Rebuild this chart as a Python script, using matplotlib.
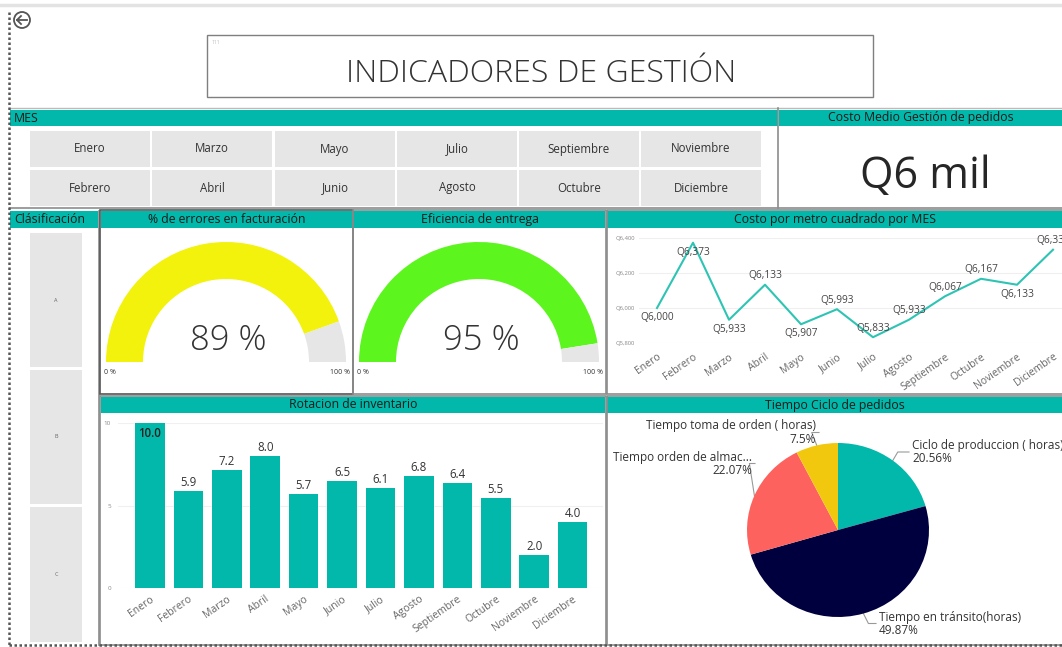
import numpy as np
import matplotlib
matplotlib.use("Agg")
import matplotlib.pyplot as plt
from matplotlib.patches import Rectangle, Wedge, Circle

# ---------------- data ----------------
months = ["Enero", "Febrero", "Marzo", "Abril", "Mayo", "Junio", "Julio",
          "Agosto", "Septiembre", "Octubre", "Noviembre", "Diciembre"]
clasificacion = ["A", "B", "C"]

costo_m2 = [6000, 6373, 5933, 6133, 5907, 5993, 5833, 5933, 6067, 6167, 6133, 6333]
costo_ticks = [5800, 6000, 6200, 6400]

rotacion = [10.0, 5.9, 7.2, 8.0, 5.7, 6.5, 6.1, 6.8, 6.4, 5.5, 2.0, 4.0]
rotacion_ticks = [0, 5, 10]

ciclo_labels = ["Ciclo de produccion ( horas)", "Tiempo en tránsito(horas)",
                "Tiempo orden de almac...", "Tiempo toma de orden ( horas)"]
ciclo_pct = [20.56, 49.87, 22.07, 7.5]

errores_pct = 89
eficiencia_pct = 95
costo_medio = "Q6 mil"

# ---------------- style ----------------
plt.rcParams["font.family"] = ["Open Sans", "DejaVu Sans"]
TEAL = "#01B8AA"
NAVY = "#00003F"
SALMON = "#FD625E"
GOLD = "#F2C80F"
TILE = "#E6E6E6"
BORDER = "#8C8C8C"
TXT = "#333333"
HEAD_FS = 8.8

W, H = 1062, 647
fig = plt.figure(figsize=(W / 100, H / 100), dpi=100)


def box(x0, y0, x1, y1):
    return [x0 / W, 1 - y1 / H, (x1 - x0) / W, (y1 - y0) / H]


bg = fig.add_axes([0, 0, 1, 1])
bg.set_xlim(0, W)
bg.set_ylim(H, 0)
bg.axis("off")


def rect(x0, y0, x1, y1, fc="none", ec="none", lw=0.0, z=1):
    bg.add_patch(Rectangle((x0, y0), x1 - x0, y1 - y0, facecolor=fc,
                           edgecolor=ec, lw=lw, zorder=z))


def header(x0, y0, x1, y1, text, left=False):
    rect(x0, y0, x1, y1, fc=TEAL, z=2)
    if left:
        bg.text(x0 + 4, (y0 + y1) / 2, text, ha="left", va="center",
                fontsize=HEAD_FS, color="#1a1a1a", zorder=3)
    else:
        bg.text((x0 + x1) / 2, (y0 + y1) / 2, text, ha="center", va="center",
                fontsize=HEAD_FS, color="#1a1a1a", zorder=3)


# page frame
bg.plot([0, W], [5, 5], color="#E3E3E3", lw=2.5, zorder=1)
bg.plot([9, 9], [12, 645], color="#555555", lw=1.8, ls=(0, (1, 1)), zorder=5)
bg.plot([9, W], [645, 645], color="#555555", lw=1.8, ls=(0, (1, 1)), zorder=5)

# back button
bg.add_patch(Circle((22, 20), 8, fill=False, ec="#555555", lw=1.3, zorder=3))
bg.plot([17, 27], [20, 20], color="#555555", lw=1.3, zorder=3)
bg.plot([21, 17, 21], [16, 20, 24], color="#555555", lw=1.3, zorder=3)

# title box
rect(207, 35, 873, 97, fc="white", ec="#7F7F7F", lw=1.0, z=2)
bg.text(212, 42, "111", fontsize=3.5, color="#BBBBBB", ha="left", va="center", zorder=3)
bg.text(541, 74, "INDICADORES DE GESTIÓN", fontsize=23, fontweight="light",
        color=TXT, ha="center", va="center", zorder=3)

# month slicer
header(10, 110, 778, 126, "MES", left=True)
col_x = [30, 152, 275, 397, 519, 641]
row_y = [131, 170]
cell_w, cell_h = 120, 36
for r, names in enumerate([months[0::2], months[1::2]]):
    for c, name in enumerate(names):
        x0, y0 = col_x[c], row_y[r]
        rect(x0, y0, x0 + cell_w, y0 + cell_h, fc=TILE, z=2)
        bg.text(x0 + cell_w / 2, y0 + cell_h / 2, name, ha="center", va="center",
                fontsize=8.3, color=TXT, zorder=3)
bg.plot([778, 778], [108, 208], color=BORDER, lw=1.2, zorder=3)
bg.plot([10, W], [108, 108], color="#BBBBBB", lw=1.0, zorder=1)
bg.plot([10, W], [208, 208], color=BORDER, lw=1.2, zorder=3)

# KPI card
header(779, 110, W, 126, "Costo Medio Gestión de pedidos")
bg.text(925, 177, costo_medio, ha="center", va="center", fontsize=31,
        fontweight="medium", color="#262626", zorder=3)

# classification slicer
header(10, 211, 98, 228, "Clásificación", left=True)
tile_y = [(233, 367), (370, 504), (507, 642)]
for name, (y0, y1) in zip(clasificacion, tile_y):
    rect(30, y0, 82, y1, fc=TILE, z=2)
    bg.text(56, (y0 + y1) / 2, name, ha="center", va="center", fontsize=4,
            color="#666666", zorder=3)
bg.plot([99, 99], [211, 645], color=BORDER, lw=1.2, zorder=3)

# panel borders and headers
rect(100, 210, 352.5, 394, ec="#555555", lw=1.2, z=4)
rect(352.5, 210, 605.5, 394, ec=BORDER, lw=1.2, z=4)
rect(606.5, 210, W + 2, 394, ec=BORDER, lw=1.2, z=4)
rect(100, 395.5, 605.5, 645, ec=BORDER, lw=1.2, z=4)
rect(606.5, 395.5, W + 2, 645, ec=BORDER, lw=1.2, z=4)

header(101, 211, 352, 228, "% de errores en facturación")
header(354, 211, 605, 228, "Eficiencia de entrega")
header(607, 211, W, 228, "Costo por metro cuadrado por MES")
header(101, 397, 605, 413, "Rotacion de inventario")
header(607, 397, W, 413, "Tiempo Ciclo de pedidos")


# ---------------- gauges ----------------
def gauge(x0, value, color):
    g = fig.add_axes(box(x0, 228, x0 + 252, 393))
    g.set_xlim(-126, 126)
    g.set_ylim(-31, 134)
    g.axis("off")
    r_out, width = 120, 37
    split = 180 - 180 * value / 100
    g.add_patch(Wedge((0, 0), r_out, split, 180, width=width, fc=color, ec="none"))
    g.add_patch(Wedge((0, 0), r_out, 0, split, width=width, fc=TILE, ec="none"))
    g.text(2, 21, f"{value} %", ha="center", va="center", fontsize=25,
           fontweight="light", color=TXT)
    g.text(-122, -10, "0 %", ha="left", va="center", fontsize=5, color=TXT)
    g.text(124, -10, "100 %", ha="right", va="center", fontsize=5, color=TXT)


gauge(100, errores_pct, "#F2F20C")
gauge(353, eficiencia_pct, "#5CF51D")

# ---------------- line chart ----------------
al = fig.add_axes(box(639, 238, 1071, 343))
xi = np.arange(len(months))
al.plot(xi, costo_m2, color="#2EC4B4", lw=1.5, clip_on=False, zorder=3)
al.set_xlim(-0.5, 11.5)
al.set_ylim(costo_ticks[0], costo_ticks[-1])
al.set_yticks(costo_ticks, [f"Q{v:,}" for v in costo_ticks])
al.yaxis.grid(True, color="#EFEFEF", lw=0.8)
al.set_axisbelow(True)
al.patch.set_alpha(0)
for s in al.spines.values():
    s.set_visible(False)
al.tick_params(axis="y", length=0, labelsize=4.2, labelcolor="#888888", pad=3)
al.tick_params(axis="x", length=0, pad=6)
al.set_xticks(xi, months, rotation=35, ha="right", rotation_mode="anchor",
              fontsize=7.5, color="#666666")
label_side = ["below", "below", "below", "above", "below", "above", "above",
              "above", "above", "above", "below", "above"]
for i, (v, side) in enumerate(zip(costo_m2, label_side)):
    dy = 6.5 if side == "above" else -7
    al.annotate(f"Q{v:,}", (i, v), xytext=(0, dy), textcoords="offset points",
                ha="center", va="center", fontsize=7.3, color="#444444",
                annotation_clip=False)

# ---------------- bar chart ----------------
ab = fig.add_axes(box(118, 423.3, 603, 588.3))
ab.bar(xi, rotacion, width=0.77, color=TEAL, zorder=2)
ab.set_xlim(-0.83, 11.79)
ab.set_ylim(rotacion_ticks[0], rotacion_ticks[-1])
ab.set_yticks(rotacion_ticks)
ab.yaxis.grid(True, color="#F0F0F0", lw=0.8)
ab.set_axisbelow(True)
ab.patch.set_alpha(0)
for s in ab.spines.values():
    s.set_visible(False)
ab.tick_params(axis="y", length=0, labelsize=4.5, labelcolor="#888888", pad=5)
ab.tick_params(axis="x", length=0, pad=4)
ab.set_xticks(xi, months, rotation=35, ha="right", rotation_mode="anchor",
              fontsize=7.5, color="#666666")
ymax = rotacion_ticks[-1]
for i, v in enumerate(rotacion):
    if v >= ymax - 0.5:
        ab.annotate(f"{v:.1f}", (i, v), xytext=(0, -7.5), textcoords="offset points",
                    ha="center", va="center", fontsize=8.3, color="#222222",
                    fontweight="semibold", annotation_clip=False)
    else:
        ab.annotate(f"{v:.1f}", (i, v), xytext=(0, 6), textcoords="offset points",
                    ha="center", va="center", fontsize=8.3, color=TXT,
                    annotation_clip=False)

# ---------------- pie chart ----------------
cx, cy, rx, ry = 838, 530, 91, 87
ap = fig.add_axes(box(cx - rx, cy - ry, cx + rx, cy + ry))
ap.pie(ciclo_pct, colors=[TEAL, NAVY, SALMON, GOLD], startangle=90,
       counterclock=False, radius=1, wedgeprops=dict(linewidth=0))
ap.set_aspect("auto")
ap.set_xlim(-1, 1)
ap.set_ylim(-1, 1)
ap.axis("off")

# label anchors: (text x, text middle y, alignment)
label_pos = [(912, 452, "left"), (879, 623.5, "left"),
             (752, 463.5, "right"), (816, 432.5, "right")]
start = 0.0
for name, pct, (tx, ty, ha) in zip(ciclo_labels, ciclo_pct, label_pos):
    mid = start + pct / 2
    start += pct
    theta = np.deg2rad(90 - 360 * mid / 100)
    ex, ey = cx + rx * np.cos(theta), cy - ry * np.sin(theta)
    sgn = 1 if ha == "left" else -1
    end_x = tx - sgn * 3
    elbow_x = ex + sgn * 5
    bg.plot([ex, elbow_x, end_x], [ey, ty, ty], color="#999999", lw=0.8, zorder=6)
    bg.text(tx, ty - 6.5, name, ha=ha, va="center", fontsize=8.5, color=TXT, zorder=6)
    bg.text(tx, ty + 7, f"{pct:g}%", ha=ha, va="center", fontsize=8.5,
            color=TXT, zorder=6)

fig.savefig("out.png", dpi=100)
